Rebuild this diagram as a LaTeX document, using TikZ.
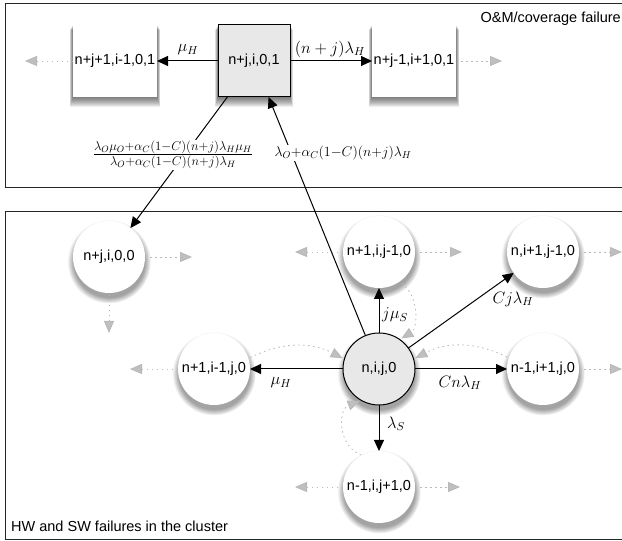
\documentclass[tikz,border=0pt]{standalone}
\usepackage{fix-cm}
\usepackage[no-math]{fontspec}
\setmainfont{Liberation Sans}
\usetikzlibrary{arrows.meta,shadows,fadings}
\begin{document}
\begin{tikzpicture}[x=1pt, y=1pt,
    shlayer/.style 2 args={general shadow={shadow yshift=-#1pt, shadow scale=#2, fill=black, opacity=.065}},
    boxshadow/.style={shlayer={.7}{1.008}, shlayer={1.4}{1.016}, shlayer={2.1}{1.024}, shlayer={2.8}{1.032}, shlayer={3.5}{1.04},
      shlayer={4.2}{1.048}, shlayer={4.9}{1.056}, shlayer={5.6}{1.064}, shlayer={6.3}{1.072}, shlayer={7}{1.08}},
    circshadow/.style={circular drop shadow={shadow xshift=0pt, shadow yshift=-4pt, shadow scale=1.16, opacity=.72}},
    nametext/.style={font=\fontsize{14.5}{17}\selectfont, inner sep=0pt, outer sep=0pt},
    whitebox/.style={nametext, rectangle, boxshadow, fill=white, minimum width=84pt, minimum height=72pt},
    mainbox/.style={nametext, rectangle, boxshadow, fill=black!9, draw=black, line width=1pt, minimum width=72pt, minimum height=72pt},
    whitecirc/.style={nametext, circle, circshadow, fill=white, minimum size=72pt},
    maincirc/.style={nametext, circle, circshadow, fill=black!9, draw=black, line width=1pt, minimum size=72pt},
    rate/.style={font=\fontsize{16.5}{18}\selectfont, inner sep=1pt},
    smallrate/.style={font=\fontsize{18.3}{20}\selectfont, fill=white, inner sep=1pt},
    smallrateb/.style={font=\fontsize{20}{22}\selectfont, fill=white, inner sep=1pt},
    frametext/.style={font=\fontsize{14.5}{17}\selectfont, inner sep=0pt},
    flow/.style={line width=1pt, -{Triangle[length=11pt, width=10pt]}},
    hint/.style={black!28, line width=.8pt, dash pattern=on 1.5pt off 3.5pt, -{Triangle[length=12pt, width=10pt, fill=black!25]}}]
    \clip (0, 0) rectangle (622, 541);
    \draw[black!85, line width=1pt] (5.5, 537) rectangle (640, 353);
    \draw[black!85, line width=1pt] (5.5, 329) rectangle (640, 1.5);

    \draw (115, 480) node[whitebox](t1){n+j+1,i-1,0,1}
    (254, 480) node[mainbox](t2){n+j,i,0,1}
    (414, 480) node[whitebox](t3){n+j-1,i+1,0,1}
    (109, 284) node[whitecirc](s1){n+j,i,0,0}
    (379, 289) node[whitecirc](s2){n+1,i,j-1,0}
    (543, 289) node[whitecirc](s3){n,i+1,j-1,0}
    (214, 172) node[whitecirc](s4){n+1,i-1,j,0}
    (379, 172) node[maincirc](s5){n,i,j,0}
    (543, 172) node[whitecirc](s6){n-1,i+1,j,0}
    (379, 54) node[whitecirc](s7){n-1,i,j+1,0};

    \draw (25, 480) coordinate (e1)
    (502, 480) coordinate (e2)
    (192, 284) coordinate (e3)
    (109, 208) coordinate (e4)
    (295, 289) coordinate (e5)
    (462, 289) coordinate (e6)
    (622, 289) coordinate (e7)
    (622, 172) coordinate (e8)
    (130, 172) coordinate (e9)
    (295, 54) coordinate (e10)
    (460, 54) coordinate (e11);

    \draw[hint] (t1) -- (e1);
    \draw[hint, shorten <=5pt] (t3) -- (e2);
    \draw[hint, shorten <=5pt] (s1) -- (e3);
    \draw[hint, shorten <=2pt] (s1) -- (e4);
    \draw[hint] (s2) -- (e5);
    \draw[hint, shorten <=5pt] (s2) -- (e6);
    \draw[hint, shorten <=5pt] (s3) -- (e7);
    \draw[hint, shorten <=5pt] (s6) -- (e8);
    \draw[hint] (s4) -- (e9);
    \draw[hint] (s7) -- (e10);
    \draw[hint, shorten <=5pt] (s7) -- (e11);
    \draw[hint, shorten <=3pt, shorten >=2pt] (s2.-57) to[bend left=60] (s5.55);
    \draw[hint, shorten <=2pt, shorten >=2pt] (s6.162) to[bend right=27] (s5.16);
    \draw[hint, shorten <=2pt, shorten >=2pt] (s4.17) to[bend left=27] (s5.164);
    \draw[hint, shorten <=1pt, shorten >=2pt] (s7.118) to[bend left=70, looseness=1.2] (s5.241);

    \draw[flow] (t2) -- (t1);
    \draw[flow] (t2) -- (t3);
    \draw[flow] (t2) -- (s1);
    \draw[flow] (s5) -- (t2);
    \draw[flow] (s5) -- (s2);
    \draw[flow] (s5) -- (s3);
    \draw[flow] (s5) -- (s4);
    \draw[flow] (s5) -- (s6);
    \draw[flow] (s5) -- (s7);

    \draw (188, 491) node[rate](l1){$\mu_H$}
    (330, 492) node[rate](l2){$(n+j)\lambda_H$}
    (173, 386) node[smallrate](l3){$\frac{\lambda_O\mu_O+\alpha_C(1-C)(n+j)\lambda_H\mu_H}{\lambda_O+\alpha_C(1-C)(n+j)\lambda_H}$}
    (343, 388) node[smallrateb](l4){$\scriptstyle\lambda_O+\alpha_C(1-C)(n+j)\lambda_H$}
    (395, 226) node[rate](l5){$j\mu_S$}
    (513, 242) node[rate](l6){$Cj\lambda_H$}
    (460, 158) node[rate](l7){$Cn\lambda_H$}
    (281, 158) node[rate](l8){$\mu_H$}
    (396, 117) node[rate](l9){$\lambda_S$}
    (621, 522) node[frametext, anchor=east](f1){O\&M/coverage failure}
    (11, 15) node[frametext, anchor=west](f2){HW and SW failures in the cluster};
\end{tikzpicture}
\end{document}
